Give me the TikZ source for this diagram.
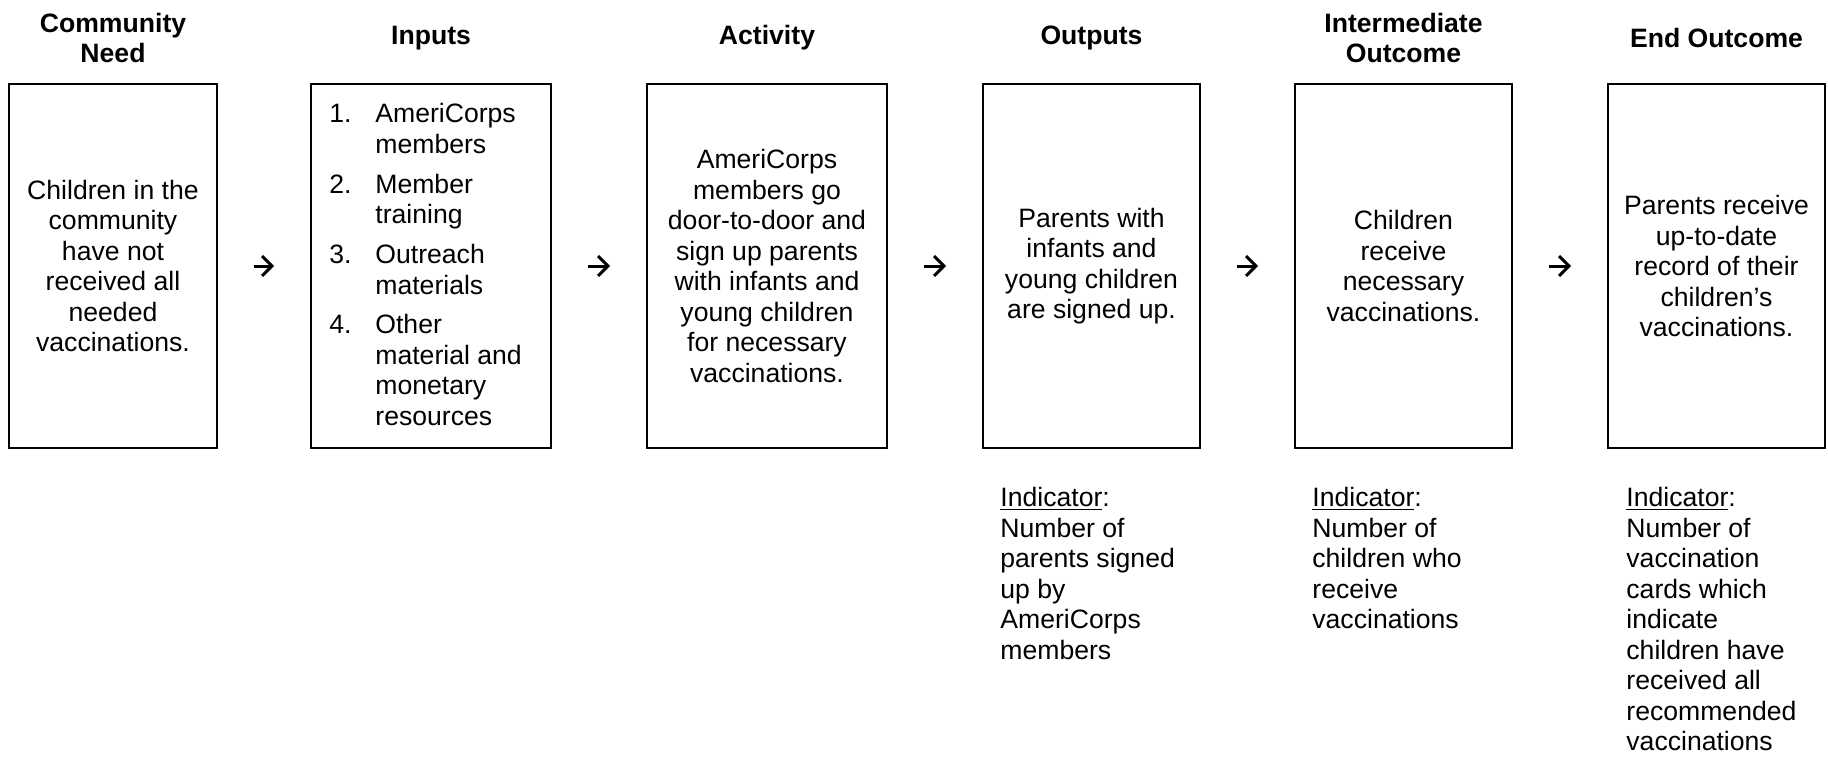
\documentclass[tikz,border=0pt]{standalone}
\usepackage{fontspec}
\setmainfont{Liberation Sans}
\usetikzlibrary{arrows.meta}
\begin{document}
\begin{tikzpicture}[x=0.5pt,y=-0.5pt,
  every node/.style={font=\fontsize{13.3pt}{15.25pt}\selectfont, inner sep=0pt},
  stagebox/.style={draw, line width=0.85pt, minimum height=182pt, align=center},
  heading/.style={font=\fontsize{13.3pt}{15.25pt}\selectfont\bfseries, align=center},
  indicator/.style={anchor=north west, align=left},
  flow/.style={line width=1.5pt, -{Straight Barb[length=5pt,width=10pt,line width=1.5pt]}, shorten <=18pt, shorten >=18pt}
]
\useasboundingbox (0,0) rectangle (1828,756);

% boxes
\node[stagebox, minimum width=104pt] (b1) at (113,266) {Children in the\\community\\have not\\received all\\needed\\vaccinations.};
\node[stagebox, minimum width=120pt] (b2) at (431,266) {};
\node[stagebox, minimum width=120pt] (b3) at (767,266) {AmeriCorps\\members go\\door-to-door and\\sign up parents\\with infants and\\young children\\for necessary\\vaccinations.};
\node[stagebox, minimum width=108.5pt] (b4) at (1091.5,266) {Parents with\\infants and\\young children\\are signed up.};
\node[stagebox, minimum width=108.5pt] (b5) at (1403.5,266) {Children\\receive\\necessary\\vaccinations.};
\node[stagebox, minimum width=108.5pt] (b6) at (1716.5,266) {Parents receive\\up-to-date\\record of their\\children’s\\vaccinations.};

% list inside inputs box
\node[anchor=west] (inlist) at (329,268) {%
  \begin{tabular}{@{}p{23pt}@{}l@{}}
  1. & AmeriCorps\\
     & members\\[4.7pt]
  2. & Member\\
     & training\\[4.7pt]
  3. & Outreach\\
     & materials\\[4.7pt]
  4. & Other\\
     & material and\\
     & monetary\\
     & resources
  \end{tabular}};

% headings
\node[heading] (h1) at (113,38) {Community\\Need};
\node[heading] (h2) at (431,38) {Inputs};
\node[heading] (h3) at (767,38) {Activity};
\node[heading] (h4) at (1091.5,38) {Outputs};
\node[heading] (h5) at (1403.5,38) {Intermediate\\Outcome};
\node[heading] (h6) at (1716.5,38) {End Outcome};

% indicators
\node[indicator] (i4) at (1000,485) {\strut\underline{Indicator}:\\Number of\\parents signed\\up by\\AmeriCorps\\members};
\node[indicator] (i5) at (1312,485) {\strut\underline{Indicator}:\\Number of\\children who\\receive\\vaccinations};
\node[indicator] (i6) at (1626,485) {\strut\underline{Indicator}:\\Number of\\vaccination\\cards which\\indicate\\children have\\received all\\recommended\\vaccinations};

% arrows
\draw[flow] (b1) -- (b2);
\draw[flow] (b2) -- (b3);
\draw[flow] (b3) -- (b4);
\draw[flow] (b4) -- (b5);
\draw[flow] (b5) -- (b6);
\end{tikzpicture}
\end{document}
